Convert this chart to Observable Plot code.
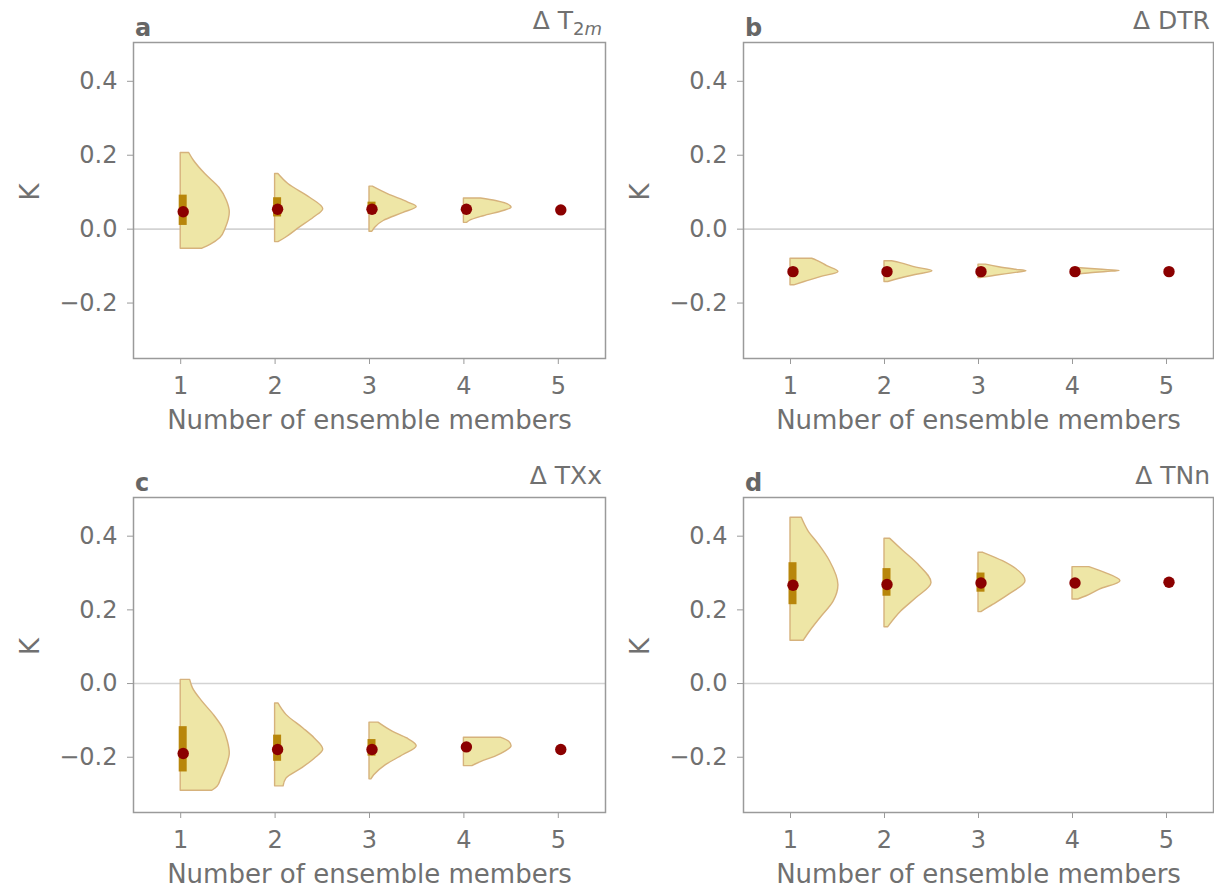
<!DOCTYPE html>
<html><head><meta charset="utf-8">
<script src="https://cdn.jsdelivr.net/npm/d3@7"></script>
<script src="https://cdn.jsdelivr.net/npm/@observablehq/plot@0.6"></script>
<style>
body{margin:0;background:#fff;}
#wrap{position:relative;width:1214px;height:892px;font-family:"DejaVu Sans",sans-serif;overflow:hidden;}
.panel{position:absolute;}
.title{position:absolute;font-size:25px;line-height:25px;color:#707070;white-space:nowrap;}
.title .sub{font-size:0.72em;position:relative;top:0.32em;}
.letter{position:absolute;font-size:24px;line-height:24px;font-weight:bold;color:#666;}
</style></head><body><div id="wrap"></div>
<script>
// ---- data ----
const members = [1, 2, 3, 4, 5];
const yTicks = [-0.2, 0, 0.2, 0.4];
const xLabel = "Number of ensemble members";
const yLabel = "K";
const letters = ["a", "b", "c", "d"];
const titles = ['Δ T<span class="sub">2<i>m</i></span>', "Δ DTR", "Δ TXx", "Δ TNn"];

// means (dots)
const meanA = [0.047, 0.054, 0.054, 0.054, 0.052];
const meanB = [-0.115, -0.115, -0.115, -0.115, -0.115];
const meanC = [-0.190, -0.179, -0.179, -0.172, -0.179];
const meanD = [0.267, 0.269, 0.273, 0.273, 0.275];

// interquartile bars (members 1-4)
const q1A = [0.010, 0.033, 0.040, 0.050];
const q3A = [0.092, 0.085, 0.073, 0.058];
const q1B = [-0.122, -0.120, -0.119, -0.118];
const q3B = [-0.109, -0.110, -0.111, -0.112];
const q1C = [-0.240, -0.211, -0.197, -0.178];
const q3C = [-0.117, -0.140, -0.152, -0.166];
const q1D = [0.214, 0.237, 0.248, 0.266];
const q3D = [0.328, 0.312, 0.300, 0.280];

// half-violin profiles: [value, half-width in member units], members 1-4
const violinA = [
  [[0.206,0.09],[0.185,0.14],[0.149,0.26],[0.112,0.41],[0.076,0.49],[0.045,0.52],[0.004,0.48],[-0.024,0.42],[-0.042,0.32],[-0.053,0.23]],
  [[0.149,0.035],[0.122,0.14],[0.085,0.37],[0.054,0.51],[0.031,0.41],[0.004,0.26],[-0.024,0.11],[-0.035,0.035]],
  [[0.115,0.035],[0.094,0.2],[0.072,0.41],[0.060,0.5],[0.044,0.36],[0.022,0.15],[0.004,0.06],[-0.007,0.03]],
  [[0.083,0.18],[0.076,0.34],[0.058,0.505],[0.049,0.42],[0.035,0.21],[0.022,0.06],[0.017,0.035]]
];
const violinB = [
  [[-0.080,0.23],[-0.085,0.28],[-0.100,0.39],[-0.116,0.51],[-0.130,0.32],[-0.143,0.15],[-0.152,0.04]],
  [[-0.087,0.08],[-0.092,0.17],[-0.104,0.34],[-0.114,0.51],[-0.124,0.33],[-0.135,0.15],[-0.143,0.04]],
  [[-0.096,0.08],[-0.103,0.22],[-0.110,0.40],[-0.114,0.51],[-0.119,0.38],[-0.126,0.18],[-0.132,0.03]],
  [[-0.105,0.05],[-0.108,0.2],[-0.111,0.38],[-0.113,0.5],[-0.116,0.36],[-0.120,0.17],[-0.124,0.03]]
];
const violinC = [
  [[0.010,0.10],[-0.013,0.13],[-0.049,0.23],[-0.085,0.35],[-0.122,0.45],[-0.158,0.50],[-0.190,0.52],[-0.222,0.49],[-0.258,0.43],[-0.280,0.39],[-0.291,0.335]],
  [[-0.054,0.035],[-0.085,0.12],[-0.122,0.30],[-0.149,0.42],[-0.179,0.51],[-0.204,0.42],[-0.231,0.28],[-0.258,0.12],[-0.279,0.09]],
  [[-0.106,0.095],[-0.131,0.25],[-0.149,0.40],[-0.170,0.50],[-0.194,0.36],[-0.222,0.17],[-0.249,0.05],[-0.260,0.02]],
  [[-0.147,0.39],[-0.158,0.48],[-0.170,0.505],[-0.185,0.44],[-0.199,0.33],[-0.213,0.18],[-0.224,0.09]]
];
const violinD = [
  [[0.450,0.12],[0.414,0.19],[0.378,0.30],[0.332,0.42],[0.267,0.51],[0.223,0.46],[0.178,0.32],[0.142,0.21],[0.116,0.14]],
  [[0.393,0.06],[0.360,0.20],[0.323,0.36],[0.273,0.50],[0.232,0.34],[0.196,0.18],[0.153,0.04]],
  [[0.355,0.05],[0.332,0.26],[0.278,0.50],[0.242,0.33],[0.214,0.16],[0.194,0.03]],
  [[0.316,0.18],[0.301,0.34],[0.278,0.51],[0.255,0.29],[0.237,0.15],[0.228,0.06]]
];

// ---- layout ----
const panels = [
  {mean: meanA, q1: q1A, q3: q3A, violins: violinA, left: 0,   top: 0,   ml: 133, mr: 2, mt: 42, mb: 88},
  {mean: meanB, q1: q1B, q3: q3B, violins: violinB, left: 607, top: 0,   ml: 136, mr: 1, mt: 42, mb: 88},
  {mean: meanC, q1: q1C, q3: q3C, violins: violinC, left: 0,   top: 446, ml: 133, mr: 2, mt: 51, mb: 80},
  {mean: meanD, q1: q1D, q3: q3D, violins: violinD, left: 607, top: 446, ml: 136, mr: 1, mt: 51, mb: 80}
];

const textColor = "#707070";
const lineColor = "#9a9a9a";

function makePanel(p) {
  const vdata = p.violins.flatMap((prof, i) =>
    prof.map(([y, w]) => ({m: members[i], y, x1: members[i], x2: members[i] + w})));
  const means = p.mean.map((y, i) => ({m: members[i], y}));
  const bars = p.q1.map((q, i) => ({m: members[i], q1: q, q3: p.q3[i]}));
  return Plot.plot({
    width: 607, height: 446,
    marginLeft: p.ml, marginRight: p.mr, marginTop: p.mt, marginBottom: p.mb,
    style: {fontFamily: '"DejaVu Sans", sans-serif', fontSize: "24px", color: textColor, background: "transparent", overflow: "visible"},
    x: {domain: [0.5, 5.5], label: null},
    y: {domain: [-0.35, 0.505], label: null},
    marks: [
      Plot.ruleY([0], {stroke: "#d3d3d3", strokeWidth: 1.6}),
      Plot.areaX(vdata, {y: "y", x1: "x1", x2: "x2", z: "m", fill: "#eee6a6", stroke: "#d6b27c", strokeWidth: 1.4, curve: "monotone-y"}),
      Plot.ruleX(bars, {x: "m", y1: "q1", y2: "q3", stroke: "#b8860b", strokeWidth: 8, dx: 2}),
      Plot.dot(means, {x: "m", y: "y", r: 5.7, fill: "#8b0000", dx: 2.5}),
      Plot.frame({stroke: lineColor, strokeWidth: 1.5}),
      Plot.axisX({ticks: members, tickFormat: d => String(d), tickSize: 6, tickPadding: 12, stroke: lineColor, fill: textColor, label: null}),
      Plot.axisY({ticks: yTicks, tickFormat: d3.format(".1f"), tickSize: 6, tickPadding: 10, stroke: lineColor, fill: textColor, label: null}),
      Plot.text([xLabel], {frameAnchor: "bottom", text: d => d, dy: 62.5, lineAnchor: "middle", fontSize: 26, fill: textColor}),
      Plot.text([yLabel], {frameAnchor: "left", text: d => d, dx: -103, rotate: -90, lineAnchor: "middle", fontSize: 26, fill: textColor})
    ]
  });
}

const wrap = document.getElementById("wrap");
panels.forEach((p, i) => {
  const div = document.createElement("div");
  div.className = "panel";
  div.style.left = p.left + "px";
  div.style.top = p.top + "px";
  div.appendChild(makePanel(p));
  wrap.appendChild(div);

  const frameLeft = p.left + p.ml;
  const frameRight = p.left + 607 - p.mr;
  const frameTop = p.top + p.mt;

  const t = document.createElement("div");
  t.className = "title";
  t.innerHTML = titles[i];
  t.style.right = (1214 - (frameRight - 3)) + "px";
  t.style.top = (frameTop - 13 - 21.2) + "px";
  wrap.appendChild(t);

  const l = document.createElement("div");
  l.className = "letter";
  l.textContent = letters[i];
  l.style.left = (frameLeft + 2) + "px";
  l.style.top = (frameTop - 6 - 20.3) + "px";
  wrap.appendChild(l);
});
</script></body></html>
